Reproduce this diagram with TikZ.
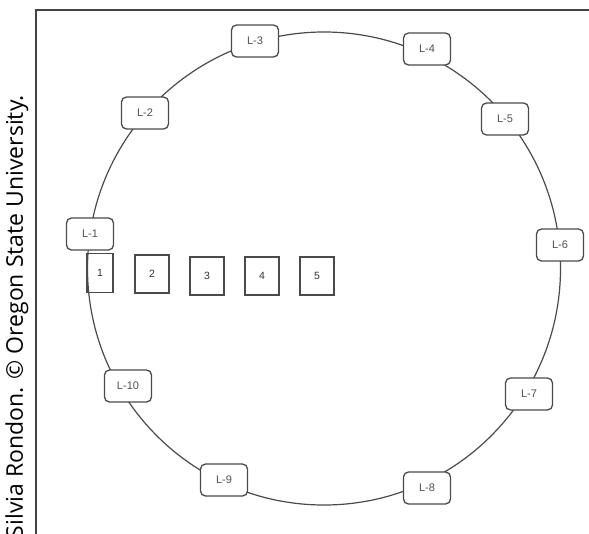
\documentclass[tikz,border=0pt]{standalone}
\usepackage{fontspec}
\setmainfont{Liberation Sans}
\newfontfamily\creditfont{Open Sans}
\definecolor{linegray}{HTML}{4A4A4A}
\definecolor{framegray}{HTML}{444444}
\definecolor{textgray}{HTML}{505050}
\begin{document}
\begin{tikzpicture}[x=1pt,y=-1pt,
  lbox/.style={draw=linegray, line width=1.3pt, rounded corners=5pt, fill=white,
    minimum width=47pt, minimum height=32pt, inner sep=0pt,
    font=\fontsize{11}{13}\selectfont, text=textgray},
  nbox/.style={draw=linegray, line width=1.3pt, fill=white,
    minimum width=34pt, minimum height=38pt, inner sep=0pt,
    font=\fontsize{10.5}{12}\selectfont, text=black!80}]
\useasboundingbox (0,0) rectangle (589,533);
% frame
\draw[framegray, line width=2pt] (36,540) -- (36,10) -- (600,10);
% credit
\node[rotate=90, anchor=base east, inner sep=0pt, font=\creditfont\fontsize{23}{26}\selectfont]
  (credit) at (23,95) {Silvia Rondon. \textcopyright\ Oregon State University.};
% ring
\node[circle, draw=linegray, line width=1.2pt, minimum size=473pt, inner sep=0pt] (ring) at (324,268.5) {};
% ring stations
\node[lbox] (L1) at (90,234) {L-1};
\node[lbox] (L2) at (145,113) {L-2};
\node[lbox] (L3) at (255,41) {L-3};
\node[lbox] (L4) at (427,49) {L-4};
\node[lbox] (L5) at (505,119) {L-5};
\node[lbox] (L6) at (560,245) {L-6};
\node[lbox] (L7) at (529,394) {L-7};
\node[lbox] (L8) at (427,488) {L-8};
\node[lbox] (L9) at (224,480) {L-9};
\node[lbox] (L10) at (128,386) {L-10};
% numbered boxes
\node[nbox, minimum width=26pt, minimum height=39pt, fill=none] (n1) at (100,273) {1};
\node[nbox] (n2) at (152,274) {2};
\node[nbox] (n3) at (207,276) {3};
\node[nbox] (n4) at (262,276) {4};
\node[nbox] (n5) at (317,276) {5};
\end{tikzpicture}
\end{document}
